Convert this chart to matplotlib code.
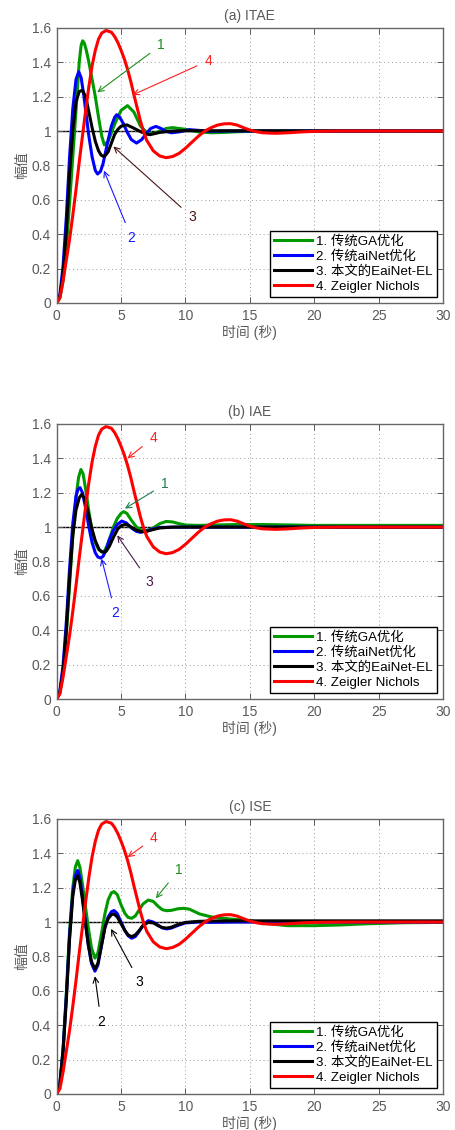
import matplotlib
matplotlib.use('Agg')
import matplotlib.pyplot as plt

plt.rcParams['font.family'] = ['Liberation Sans', 'Noto Sans CJK SC', 'DejaVu Sans']

# --- data (time in s, amplitude) ---
titles = ['(a) ITAE', '(b) IAE', '(c) ISE']
labels = ['1. 传统GA优化', '2. 传统aiNet优化', '3. 本文的EaiNet-EL', '4. Zeigler Nichols']

# Zeigler Nichols, same in all three panels
t_zn = [0, 0.25, 0.5, 0.75, 1.0, 1.25, 1.5, 1.75, 2.0, 2.25, 2.5, 2.75, 3.0, 3.25, 3.5, 3.83, 4.25,
        4.5, 4.75, 5.0, 5.25, 5.5, 5.75, 6.0, 6.25, 6.5, 6.75, 7.0, 7.5, 8.0, 8.5, 9.0, 9.5, 10,
        10.5, 11, 11.5, 12, 12.5, 13, 13.5, 14, 14.5, 15, 15.5, 16, 17, 18, 19, 20, 22, 25, 30]
y_zn = [0, 0.03, 0.13, 0.25, 0.37, 0.51, 0.66, 0.82, 0.97, 1.12, 1.26, 1.38, 1.47, 1.535, 1.57,
        1.585, 1.575, 1.55, 1.515, 1.47, 1.42, 1.36, 1.29, 1.21, 1.135, 1.06, 0.995, 0.945, 0.885,
        0.855, 0.845, 0.852, 0.87, 0.9, 0.935, 0.97, 1.0, 1.02, 1.035, 1.042, 1.043, 1.035, 1.02,
        1.006, 0.996, 0.99, 0.987, 0.99, 0.995, 0.998, 1.0, 1.0, 1.0]

# (a) ITAE
t_a_ga = [0, 0.25, 0.5, 0.75, 1.0, 1.25, 1.5, 1.75, 1.9, 2.02, 2.15, 2.3, 2.5, 2.75, 3.0, 3.25, 3.5,
          3.7, 4.0, 4.5, 5.0, 5.5, 6.0, 6.5, 7.0, 7.5, 8.0, 8.5, 9.0, 10, 11, 12, 13, 14, 16, 18, 20, 30]
y_a_ga = [0, 0.03, 0.13, 0.32, 0.58, 0.85, 1.12, 1.40, 1.50, 1.525, 1.51, 1.47, 1.40, 1.30, 1.20,
          1.08, 0.97, 0.92, 0.94, 1.04, 1.12, 1.148, 1.11, 1.03, 0.99, 0.985, 1.0, 1.015, 1.02, 1.01,
          0.995, 0.99, 0.992, 0.996, 1.0, 1.0, 1.0, 1.0]
t_a_ai = [0, 0.25, 0.5, 0.75, 1.0, 1.25, 1.5, 1.71, 1.9, 2.1, 2.3, 2.5, 2.75, 3.0, 3.18, 3.4, 3.6,
          3.8, 4.0, 4.25, 4.5, 4.66, 4.9, 5.2, 5.5, 5.8, 6.2, 6.6, 7.0, 7.3, 7.7, 8.1, 8.5, 8.9,
          9.5, 10.3, 11, 12, 13, 30]
y_a_ai = [0, 0.05, 0.22, 0.5, 0.85, 1.13, 1.30, 1.345, 1.31, 1.21, 1.09, 0.97, 0.85, 0.77, 0.75,
          0.765, 0.81, 0.88, 0.95, 1.03, 1.08, 1.095, 1.08, 1.04, 0.99, 0.95, 0.93, 0.95, 0.99,
          1.015, 1.027, 1.015, 0.998, 0.99, 0.995, 1.008, 1.004, 0.998, 1.0, 1.0]
t_a_el = [0, 0.25, 0.5, 0.75, 1.0, 1.25, 1.5, 1.75, 2.0, 2.25, 2.5, 2.75, 3.0, 3.25, 3.45, 3.62,
          3.8, 4.0, 4.25, 4.5, 4.75, 5.0, 5.45, 5.9, 6.5, 7.0, 7.25, 7.6, 8.0, 9.0, 10, 30]
y_a_el = [0, 0.04, 0.17, 0.42, 0.75, 1.0, 1.17, 1.23, 1.237, 1.20, 1.11, 1.02, 0.94, 0.885, 0.86,
          0.853, 0.86, 0.88, 0.93, 0.98, 1.01, 1.028, 1.036, 1.02, 0.997, 0.982, 0.979, 0.985,
          0.992, 1.0, 1.002, 1.0]

# (b) IAE
t_b_ga = [0, 0.25, 0.5, 0.75, 1.0, 1.25, 1.5, 1.7, 1.88, 2.05, 2.25, 2.5, 2.75, 3.0, 3.25, 3.5,
          3.7, 3.9, 4.1, 4.4, 4.7, 5.0, 5.2, 5.45, 5.8, 6.2, 6.6, 7.0, 7.5, 8.0, 8.5, 9.0, 9.5,
          10, 11, 12, 14, 16, 20, 25, 30]
y_b_ga = [0, 0.04, 0.16, 0.38, 0.66, 0.95, 1.17, 1.29, 1.335, 1.31, 1.22, 1.09, 0.98, 0.91, 0.87,
          0.855, 0.86, 0.89, 0.93, 1.0, 1.05, 1.08, 1.09, 1.08, 1.04, 1.0, 0.982, 0.98, 0.995,
          1.02, 1.033, 1.03, 1.02, 1.012, 1.01, 1.012, 1.015, 1.015, 1.01, 1.01, 1.01]
t_b_ai = [0, 0.25, 0.5, 0.75, 1.0, 1.25, 1.5, 1.65, 1.81, 2.0, 2.25, 2.5, 2.75, 3.0, 3.2, 3.41,
          3.6, 3.85, 4.1, 4.4, 4.7, 5.05, 5.4, 5.8, 6.2, 6.5, 7.0, 7.5, 8.0, 9.0, 10, 30]
y_b_ai = [0, 0.05, 0.2, 0.45, 0.76, 1.02, 1.18, 1.22, 1.23, 1.2, 1.11, 1.0, 0.91, 0.85, 0.826,
          0.82, 0.83, 0.87, 0.93, 0.98, 1.015, 1.035, 1.025, 0.995, 0.975, 0.97, 0.978, 0.99,
          0.998, 1.0, 1.0, 1.0]
t_b_el = [0, 0.25, 0.5, 0.75, 1.0, 1.25, 1.5, 1.75, 1.94, 2.15, 2.4, 2.7, 3.0, 3.3, 3.5, 3.67,
          3.85, 4.1, 4.4, 4.75, 5.0, 5.35, 5.7, 6.1, 6.6, 7.0, 7.5, 8.0, 9.0, 10, 30]
y_b_el = [0, 0.04, 0.16, 0.4, 0.7, 0.95, 1.1, 1.17, 1.19, 1.17, 1.10, 1.0, 0.92, 0.87, 0.857,
          0.854, 0.86, 0.89, 0.94, 0.99, 1.008, 1.016, 1.005, 0.985, 0.973, 0.976, 0.986, 0.995,
          1.0, 1.0, 1.0]

# (c) ISE
t_c_ga = [0, 0.25, 0.5, 0.75, 1.0, 1.25, 1.45, 1.63, 1.8, 2.0, 2.2, 2.45, 2.7, 2.97, 3.2, 3.45,
          3.75, 4.0, 4.25, 4.45, 4.7, 5.0, 5.3, 5.55, 5.82, 6.1, 6.4, 6.7, 7.11, 7.5, 7.9, 8.2,
          8.54, 8.9, 9.4, 9.83, 10.3, 11.1, 12, 13.45, 15, 16.5, 17.9, 20, 22, 24.1, 27, 30]
y_c_ga = [0, 0.06, 0.27, 0.59, 0.95, 1.2, 1.32, 1.357, 1.32, 1.22, 1.11, 0.97, 0.85, 0.79, 0.82,
          0.92, 1.05, 1.13, 1.17, 1.177, 1.16, 1.10, 1.05, 1.027, 1.022, 1.035, 1.07, 1.105,
          1.128, 1.12, 1.09, 1.072, 1.066, 1.068, 1.077, 1.08, 1.075, 1.047, 1.03, 1.018, 1.008,
          0.99, 0.979, 0.979, 0.983, 0.99, 0.996, 0.998]
t_c_ai = [0, 0.25, 0.5, 0.75, 1.0, 1.25, 1.45, 1.63, 1.8, 2.0, 2.2, 2.45, 2.7, 2.97, 3.2, 3.45,
          3.75, 4.0, 4.25, 4.45, 4.7, 5.0, 5.3, 5.55, 5.82, 6.1, 6.4, 6.7, 7.11, 7.5, 7.9, 8.2,
          8.54, 8.9, 9.4, 10, 11, 12, 14, 30]
y_c_ai = [0, 0.06, 0.26, 0.57, 0.92, 1.17, 1.27, 1.30, 1.26, 1.15, 1.02, 0.87, 0.76, 0.714, 0.75,
          0.85, 0.97, 1.03, 1.06, 1.067, 1.05, 1.0, 0.95, 0.92, 0.906, 0.915, 0.945, 0.98, 1.008,
          1.0, 0.98, 0.966, 0.96, 0.965, 0.98, 0.995, 1.0, 0.998, 1.0, 1.0]
t_c_el = t_c_ai
y_c_el = [0, 0.06, 0.25, 0.55, 0.9, 1.15, 1.245, 1.27, 1.23, 1.13, 1.01, 0.87, 0.77, 0.727, 0.76,
          0.855, 0.97, 1.02, 1.043, 1.047, 1.03, 0.99, 0.95, 0.925, 0.915, 0.925, 0.95, 0.98,
          0.998, 0.995, 0.978, 0.968, 0.965, 0.97, 0.985, 0.998, 1.004, 1.006, 1.007, 1.007]

panels = [
    [(t_a_ga, y_a_ga), (t_a_ai, y_a_ai), (t_a_el, y_a_el), (t_zn, y_zn)],
    [(t_b_ga, y_b_ga), (t_b_ai, y_b_ai), (t_b_el, y_b_el), (t_zn, y_zn)],
    [(t_c_ga, y_c_ga), (t_c_ai, y_c_ai), (t_c_el, y_c_el), (t_zn, y_zn)],
]
colors = ['#009a00', '#0000ff', '#000000', '#ff0000']

# callouts: (text, text xy, arrow tip xy, colour)
callouts = [
    [('1', (8.1, 1.50), (3.15, 1.225), '#1f8f1f'),
     ('4', (11.8, 1.41), (5.9, 1.21), '#ff2020'),
     ('3', (10.5, 0.50), (4.4, 0.91), '#4a1414'),
     ('2', (5.8, 0.38), (3.67, 0.77), '#1a1aff')],
    [('4', (7.5, 1.52), (5.5, 1.40), '#ff2020'),
     ('1', (8.4, 1.25), (5.3, 1.108), '#1f7f4f'),
     ('3', (7.2, 0.68), (4.7, 0.952), '#4a1a4a'),
     ('2', (4.55, 0.50), (3.49, 0.816), '#1a1aff')],
    [('4', (7.55, 1.49), (5.5, 1.377), '#ff2020'),
     ('1', (9.45, 1.30), (7.7, 1.138), '#1f8f1f'),
     ('3', (6.45, 0.65), (4.22, 0.96), '#000000'),
     ('2', (3.45, 0.42), (2.97, 0.685), '#000000')],
]

grey = '#5a5a5a'
fig = plt.figure(figsize=(4.55, 11.3), dpi=100)
bottoms = [0.7319, 0.3814, 0.0319]

for k in range(3):
    ax = fig.add_axes([0.1246, bottoms[k], 0.849, 0.2434])
    ax.axhline(1.0, color='k', lw=1.0, zorder=1)
    for (t, y), c, lab in zip(panels[k], colors, labels):
        ax.plot(t, y, color=c, lw=2.2, label=lab, zorder=2)
    for txt, xy_t, xy_a, c in callouts[k]:
        ax.annotate(txt, xy=xy_a, xytext=xy_t, color=c, fontsize=10,
                    ha='center', va='center',
                    arrowprops=dict(arrowstyle='->', color=c, lw=0.8,
                                    shrinkA=4, shrinkB=0))
    ax.set_xlim(0, 30)
    ax.set_ylim(0, 1.6)
    ax.set_xticks(range(0, 31, 5))
    ax.set_yticks([0, 0.2, 0.4, 0.6, 0.8, 1.0, 1.2, 1.4, 1.6])
    ax.set_yticklabels(['0', '0.2', '0.4', '0.6', '0.8', '1', '1.2', '1.4', '1.6'])
    ax.grid(True, linestyle=(0, (1, 3)), color='#9a9a9a', lw=0.7)
    ax.tick_params(direction='in', top=True, right=True, length=4, labelsize=10,
                   colors=grey, width=0.7, pad=4)
    for s in ax.spines.values():
        s.set_color('#666666')
        s.set_linewidth(1.0)
    ax.set_title(titles[k], fontsize=10, color=grey, pad=6)
    ax.set_xlabel('时间 (秒)', fontsize=10, color=grey, labelpad=2)
    ax.set_ylabel('幅值', fontsize=10, color=grey, labelpad=2)
    leg = ax.legend(loc='lower right', fontsize=9.6, handlelength=2.8, handletextpad=0.35,
                    labelspacing=0.2, borderaxespad=0.45, fancybox=False, framealpha=1,
                    borderpad=0.3)
    leg.get_frame().set_edgecolor('k')
    leg.get_frame().set_linewidth(1.0)

fig.savefig('out.png', dpi=100)
